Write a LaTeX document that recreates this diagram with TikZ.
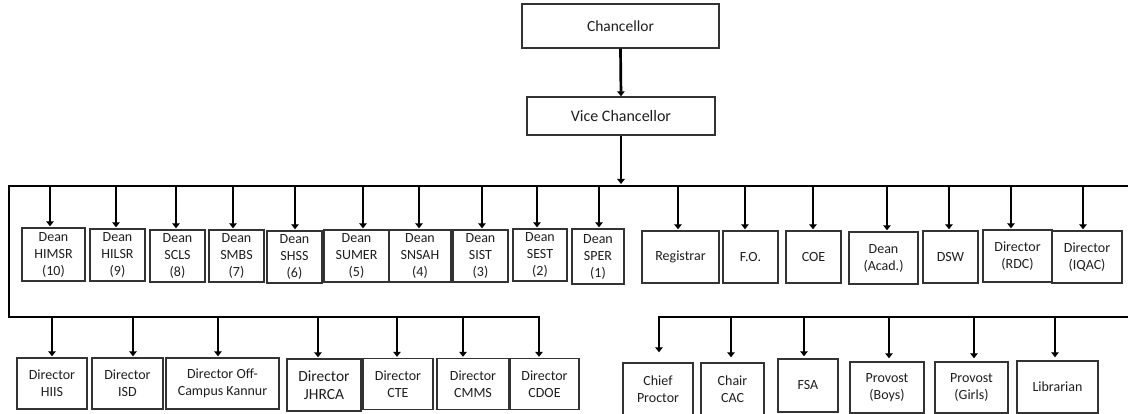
\documentclass[tikz,border=0pt]{standalone}
\usepackage{fontspec}
\setmainfont{Carlito}
\usetikzlibrary{arrows.meta,calc}
\tikzset{
  box/.style={draw=black!80, line width=1.4pt, align=center, inner sep=0pt,
    font=\fontsize{14}{17}\selectfont, text=black!88},
  arr/.style={line width=2.7pt, -{Triangle[width=7.5pt,length=5pt]}},
  bus/.style={line width=2.1pt, line cap=rect},
}
\newcommand\bx[6]{\node[box,minimum width=#4pt,minimum height=#5pt] (#1) at (#2,#3) {#6};}
\newcommand\drop[4]{\draw[arr,shorten >=#4pt] ($(#2.north |- #1)+(#3,0)$) -- ($(#2.north)+(#3,0)$);}
\begin{document}
\begin{tikzpicture}[x=1pt,y=-1pt]
\useasboundingbox (0,0) rectangle (1128,414);
\fill[white] (0,0) rectangle (1128,414);
\clip (0,0) rectangle (1128,414);

% top
\node[box,font=\fontsize{15.5}{18}\selectfont,minimum width=197pt,minimum height=44pt] (ch) at (620.5,26) {Chancellor};
\node[box,font=\fontsize{16}{19}\selectfont,minimum width=188pt,minimum height=38pt] (vc) at (621,116) {Vice Chancellor};

% bus coordinates
\coordinate (busTL) at (9,186);
\coordinate (busTR) at (1140,186);
\coordinate (busLL) at (9,317);
\coordinate (busLR) at (539,317);
\coordinate (busRL) at (659,317);
\coordinate (busRR) at (1140,317);

% first row
\bx{himsr}{53.5}{254.5}{63}{53}{Dean\\HIMSR\\(10)}
\bx{hilsr}{117.5}{255}{55}{52}{Dean\\HILSR\\(9)}
\bx{scls}{177.5}{256}{55}{52}{Dean\\SCLS\\(8)}
\bx{smbs}{236.5}{256}{55}{52}{Dean\\SMBS\\(7)}
\bx{shss}{294.5}{257}{55}{52}{Dean\\SHSS\\(6)}
\bx{sumer}{356.5}{256}{65}{52}{Dean\\SUMER\\(5)}
\bx{snsah}{420}{256}{62}{52}{Dean\\SNSAH\\(4)}
\bx{sist}{480.5}{256}{55}{52}{Dean\\SIST\\(3)}
\bx{sest}{540}{255}{54}{52}{Dean\\SEST\\(2)}
\bx{sper}{598}{256.5}{52}{55}{Dean\\SPER\\(1)}
\bx{reg}{680.5}{257}{77}{52}{Registrar}
\bx{fo}{750.5}{257}{55}{52}{F.O.}
\bx{coe}{813.5}{257}{55}{52}{COE}
\bx{acad}{883.5}{258}{69}{52}{Dean\\(Acad.)}
\bx{dsw}{950.5}{257}{55}{52}{DSW}
\bx{rdc}{1017.5}{256}{69}{52}{Director\\(RDC)}
\bx{iqac}{1087}{257}{70}{52}{Director\\(IQAC)}

% second row left
\bx{hiis}{52}{383.5}{70}{51}{Director\\HIIS}
\bx{isd}{127.5}{383.5}{71}{51}{Director\\ISD}
\bx{kannur}{222.5}{383.5}{113}{51}{Director Off-\\Campus Kannur}
\node[box,font=\fontsize{15.5}{18}\selectfont,minimum width=74pt,minimum height=52pt] (jhrca) at (324,385) {Director\\JHRCA};
\bx{cte}{398}{384}{70}{51}{Director\\CTE}
\bx{cmms}{473}{384}{72}{51}{Director\\CMMS}
\bx{cdoe}{544.5}{384}{69}{51}{Director\\CDOE}

% second row right
\bx{proctor}{658}{389.5}{70}{53}{Chief\\Proctor}
\bx{cac}{732.5}{389.5}{63}{53}{Chair\\CAC}
\bx{fsa}{808}{385.5}{60}{53}{FSA}
\bx{boys}{887}{387.5}{74}{51}{Provost\\(Boys)}
\bx{girls}{971.5}{387.5}{73}{51}{Provost\\(Girls)}
\bx{lib}{1057.5}{387}{81}{52}{Librarian}

% connectors
\draw[arr] (ch.south) -- (vc.north);
\draw[arr,shorten >=2pt] (vc.south) -- (vc.south |- busTL);
\draw[bus] (busTR) -- (busTL) -- (busLL) -- (busLR);
\draw[bus] (busRL) -- (busRR);

\drop{busTL}{himsr}{-3.5}{1}
\drop{busTL}{hilsr}{-1.5}{1}
\drop{busTL}{scls}{-1.5}{1}
\drop{busTL}{smbs}{-3.5}{1}
\drop{busTL}{shss}{0.5}{1}
\drop{busTL}{sumer}{6.5}{1}
\drop{busTL}{snsah}{-1}{1}
\drop{busTL}{sist}{1.5}{1}
\drop{busTL}{sest}{-3}{1}
\drop{busTL}{sper}{1}{1}
\drop{busTL}{reg}{-2.5}{1}
\drop{busTL}{fo}{-5.5}{1}
\drop{busTL}{coe}{-0.5}{1}
\drop{busTL}{acad}{3.5}{1}
\drop{busTL}{dsw}{-1.5}{1}
\drop{busTL}{rdc}{-6.5}{1}
\drop{busTL}{iqac}{-4}{1}

\drop{busLL}{hiis}{0}{1}
\drop{busLL}{isd}{5.5}{1}
\drop{busLL}{kannur}{-4.5}{1}
\drop{busLL}{jhrca}{-6}{1}
\drop{busLL}{cte}{-1}{1}
\drop{busLL}{cmms}{-10}{1}
\drop{busLL}{cdoe}{-5.5}{1}

\drop{busRL}{proctor}{1}{10}
\drop{busRL}{cac}{-1.5}{5}
\drop{busRL}{fsa}{-4}{2}
\drop{busRL}{boys}{2}{3}
\drop{busRL}{girls}{2.5}{3}
\drop{busRL}{lib}{-2.5}{3}
\end{tikzpicture}
\end{document}
